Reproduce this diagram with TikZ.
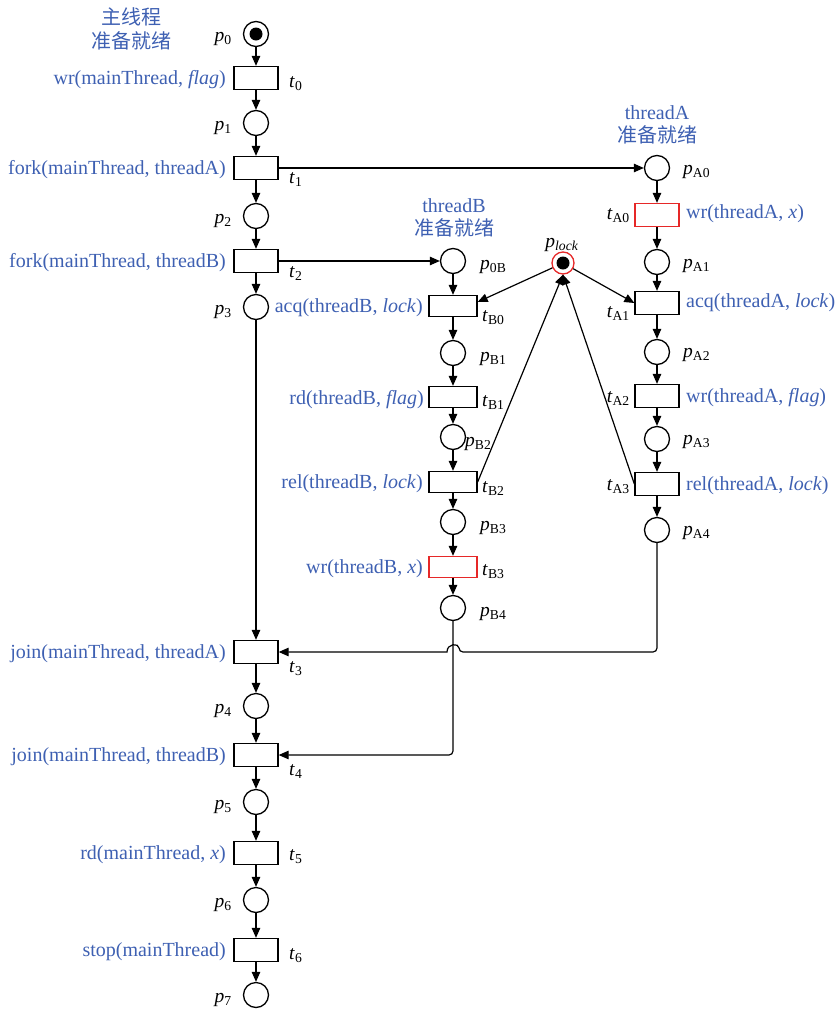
\documentclass[tikz,border=0pt]{standalone}
\usepackage{fontspec}
\setmainfont{Liberation Serif}
\newfontfamily\cjk{Noto Sans CJK SC}
\usetikzlibrary{arrows.meta,calc}
\definecolor{lblue}{RGB}{62,96,178}
\definecolor{lred}{RGB}{230,40,40}
\newcommand\plab[1]{\textit{p}\textsubscript{#1}}
\newcommand\tlab[1]{\textit{t}\textsubscript{#1}}
\begin{document}
\begin{tikzpicture}[x=1pt,y=-1pt,
 place/.style={circle,draw,line width=1.3pt,minimum size=25pt,inner sep=0pt},
 trans/.style={rectangle,draw,line width=1.3pt,minimum width=44pt,minimum height=23pt,inner sep=0pt},
 btrans/.style={trans,minimum width=48pt,minimum height=21pt},
 redtrans/.style={draw=lred},
 arr/.style={-{Triangle[length=10pt,width=8.5pt]},line width=1.2pt},
 lbl/.style={font=\fontsize{19.5}{21}\selectfont,inner sep=0pt},
 act/.style={lbl,font=\fontsize{20}{22}\selectfont,text=lblue},
 token/.style={circle,fill=black,minimum size=13pt,inner sep=0pt},
 ]
\useasboundingbox (0,0) rectangle (835,1010);
% main thread
\node[place] (p0) at (256,34) {};
\node[token] (p0tok) at (256,34) {};
\node[trans] (t0) at (256,78) {};
\node[place] (p1) at (256,123) {};
\node[trans] (t1) at (256,168) {};
\node[place] (p2) at (256,216) {};
\node[trans] (t2) at (256,261) {};
\node[place] (p3) at (256,307) {};
\node[trans] (t3) at (256,652) {};
\node[place] (p4) at (256,706) {};
\node[trans] (t4) at (256,755) {};
\node[place] (p5) at (256,802) {};
\node[trans] (t5) at (256,853) {};
\node[place] (p6) at (256,900) {};
\node[trans] (t6) at (256,950) {};
\node[place] (p7) at (256,995) {};
% thread B
\node[place] (p0B) at (453,261) {};
\node[btrans] (tB0) at (453,306) {};
\node[place] (pB1) at (453,353) {};
\node[btrans] (tB1) at (453,397) {};
\node[place] (pB2) at (453,437) {};
\node[btrans] (tB2) at (453,482) {};
\node[place] (pB3) at (453,522) {};
\node[btrans,redtrans] (tB3) at (453,567) {};
\node[place] (pB4) at (453,608) {};
% thread A
\node[place] (pA0) at (657,168) {};
\node[trans,redtrans] (tA0) at (657,215) {};
\node[place] (pA1) at (657,262) {};
\node[trans] (tA1) at (657,303) {};
\node[place] (pA2) at (657,352) {};
\node[trans] (tA2) at (657,396) {};
\node[place] (pA3) at (657,439) {};
\node[trans] (tA3) at (657,484) {};
\node[place] (pA4) at (657,530) {};
% lock
\node[circle,draw=lred,line width=1.3pt,minimum size=22pt,inner sep=0pt] (plock) at (563,263) {};
\node[token] (plocktok) at (563,263) {};

% headings
\node[act,align=center] (hmain) at (131,29) {{\cjk 主线程}\\[2pt]{\cjk 准备就绪}};
\node[act,align=center] (hA) at (657,125) {threadA\\[1pt]{\cjk 准备就绪}};
\node[act,align=center] (hB) at (454,218) {threadB\\[1pt]{\cjk 准备就绪}};
\node[lbl,anchor=base] (lplock) at (562,247) {\plab{\textit{lock}}};

% main labels
\node[lbl,anchor=base east] (lp0) at (232,41) {\plab{0}};
\node[lbl,anchor=base east] (lp1) at (232,130) {\plab{1}};
\node[lbl,anchor=base east] (lp2) at (232,223) {\plab{2}};
\node[lbl,anchor=base east] (lp3) at (232,314) {\plab{3}};
\node[lbl,anchor=base east] (lp4) at (232,713) {\plab{4}};
\node[lbl,anchor=base east] (lp5) at (232,809) {\plab{5}};
\node[lbl,anchor=base east] (lp6) at (232,907) {\plab{6}};
\node[lbl,anchor=base east] (lp7) at (232,1002) {\plab{7}};
\node[lbl,anchor=base west] (lt0) at (289,87) {\tlab{0}};
\node[lbl,anchor=base west] (lt1) at (289,183) {\tlab{1}};
\node[lbl,anchor=base west] (lt2) at (289,277) {\tlab{2}};
\node[lbl,anchor=base west] (lt3) at (289,672) {\tlab{3}};
\node[lbl,anchor=base west] (lt4) at (289,775) {\tlab{4}};
\node[lbl,anchor=base west] (lt5) at (289,860) {\tlab{5}};
\node[lbl,anchor=base west] (lt6) at (289,959) {\tlab{6}};
\node[act,anchor=base east] (at0) at (226,84) {wr(mainThread, \textit{flag})};
\node[act,anchor=base east] (at1) at (226,174) {fork(mainThread, threadA)};
\node[act,anchor=base east] (at2) at (226,267) {fork(mainThread, threadB)};
\node[act,anchor=base east] (at3) at (226,658) {join(mainThread, threadA)};
\node[act,anchor=base east] (at4) at (226,761) {join(mainThread, threadB)};
\node[act,anchor=base east] (at5) at (226,859) {rd(mainThread, \textit{x})};
\node[act,anchor=base east] (at6) at (226,956) {stop(mainThread)};

% thread B labels
\node[lbl,anchor=base west] (lp0B) at (480,269) {\plab{0B}};
\node[lbl,anchor=base west] (lpB1) at (480,361) {\plab{B1}};
\node[lbl,anchor=base west] (lpB2) at (465,446) {\plab{B2}};
\node[lbl,anchor=base west] (lpB3) at (480,530) {\plab{B3}};
\node[lbl,anchor=base west] (lpB4) at (480,616) {\plab{B4}};
\node[lbl,anchor=base west] (ltB0) at (482,321) {\tlab{B0}};
\node[lbl,anchor=base west] (ltB1) at (482,406) {\tlab{B1}};
\node[lbl,anchor=base west] (ltB2) at (482,492) {\tlab{B2}};
\node[lbl,anchor=base west] (ltB3) at (482,575) {\tlab{B3}};
\node[act,anchor=base east] (atB0) at (423,312) {acq(threadB, \textit{lock})};
\node[act,anchor=base east] (atB1) at (424,404) {rd(threadB, \textit{flag})};
\node[act,anchor=base east] (atB2) at (423,488) {rel(threadB, \textit{lock})};
\node[act,anchor=base east] (atB3) at (423,573) {wr(threadB, \textit{x})};

% thread A labels
\node[lbl,anchor=base west] (lpA0) at (683,174) {\plab{A0}};
\node[lbl,anchor=base west] (lpA1) at (683,268) {\plab{A1}};
\node[lbl,anchor=base west] (lpA2) at (683,357) {\plab{A2}};
\node[lbl,anchor=base west] (lpA3) at (683,444) {\plab{A3}};
\node[lbl,anchor=base west] (lpA4) at (683,535) {\plab{A4}};
\node[lbl,anchor=base east] (ltA0) at (630,219) {\tlab{A0}};
\node[lbl,anchor=base east] (ltA1) at (630,317) {\tlab{A1}};
\node[lbl,anchor=base east] (ltA2) at (630,402) {\tlab{A2}};
\node[lbl,anchor=base east] (ltA3) at (630,490) {\tlab{A3}};
\node[act,anchor=base west] (atA0) at (686,218) {wr(threadA, \textit{x})};
\node[act,anchor=base west] (atA1) at (686,307) {acq(threadA, \textit{lock})};
\node[act,anchor=base west] (atA2) at (686,402) {wr(threadA, \textit{flag})};
\node[act,anchor=base west] (atA3) at (686,490) {rel(threadA, \textit{lock})};

% chain arcs
\foreach \a/\b in {p0/t0,t0/p1,p1/t1,t1/p2,p2/t2,t2/p3,p3/t3,t3/p4,p4/t4,t4/p5,p5/t5,t5/p6,p6/t6,t6/p7,
  p0B/tB0,tB0/pB1,pB1/tB1,tB1/pB2,pB2/tB2,tB2/pB3,pB3/tB3,tB3/pB4,
  pA0/tA0,tA0/pA1,pA1/tA1,tA1/pA2,pA2/tA2,tA2/pA3,pA3/tA3,tA3/pA4}
  \draw[arr] (\a) -- (\b);
% fork arcs
\draw[arr] (t1.east) -- (pA0.west);
\draw[arr] (t2.east) -- (p0B.west);
% lock arcs
\draw[arr] (plock) -- ([yshift=4pt]tB0.east);
\draw[arr] (plock) -- (tA1.west);
\draw[arr] (tB2.east) -- (plock.south);
\draw[arr] (tA3.west) -- (plock.south);
% join arcs
\coordinate (hopR) at (459,652);
\coordinate (hopL) at (447,652);
\draw[arr,rounded corners=4pt] (pA4.south) |- (hopR) [sharp corners] .. controls +(0,-9) and +(0,-9) .. (hopL) -- (t3.east);
\draw[arr,rounded corners=4pt] (pB4.south) |- (t4.east);
\end{tikzpicture}
\end{document}
